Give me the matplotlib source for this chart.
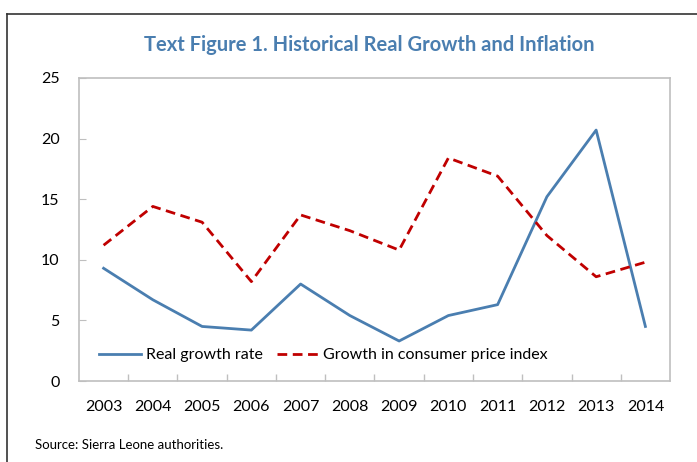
import numpy as np
import matplotlib.pyplot as plt
from matplotlib.lines import Line2D

# Données
years = ['2003', '2004', '2005', '2006', '2007', '2008', '2009',
         '2010', '2011', '2012', '2013', '2014']
real_growth = [9.3, 6.7, 4.5, 4.2, 8.0, 5.4, 3.3, 5.4, 6.3, 15.2, 20.7, 4.5]
cpi_growth = [11.2, 14.4, 13.1, 8.2, 13.7, 12.4, 10.8, 18.4, 16.9, 12.0, 8.6, 9.8]
y_ticks = [0, 5, 10, 15, 20, 25]

plt.rcParams['font.family'] = ['Lato', 'DejaVu Sans']

fig = plt.figure(figsize=(6.97, 4.62), dpi=100)
ax = fig.add_axes([0.1133, 0.1753, 0.848, 0.656])

x = np.arange(len(years))
ax.plot(x, real_growth, color='#4a7eb0', lw=2.0, label='Real growth rate')
ax.plot(x, cpi_growth, color='#c00000', lw=2.0, ls=(0, (3.5, 2)),
        label='Growth in consumer price index')

ax.set_xlim(-0.5, len(years) - 0.5)
ax.set_ylim(0, 25)
ax.set_yticks(y_ticks)
ax.set_xticks(x)
ax.set_xticklabels(years)
ax.set_xticks(x[:-1] + 0.5, minor=True)

ax.tick_params(axis='x', which='major', length=0, pad=14, labelsize=11.5)
ax.tick_params(axis='x', which='minor', direction='in', length=5,
               color='#bfbfbf', width=1)
ax.tick_params(axis='y', direction='in', length=5, color='#bfbfbf',
               pad=14, labelsize=11.5)

for s in ax.spines.values():
    s.set_color('#bfbfbf')
    s.set_linewidth(1.2)

leg = ax.legend(loc='lower left', ncol=2, frameon=False, fontsize=11.5,
                handlelength=2.6, handletextpad=0.3, columnspacing=0.9,
                bbox_to_anchor=(0.01, 0.015))

fig.text(0.53, 0.903, 'Text Figure 1. Historical Real Growth and Inflation',
         ha='center', va='center', fontsize=14.5, fontweight='bold',
         color='#4a7eb0')
fig.text(0.05, 0.037, 'Source: Sierra Leone authorities.', ha='left',
         va='center', fontsize=9.5)

# cadre extérieur (haut et gauche)
fig.add_artist(Line2D([7 / 697, 1.0], [1 - 14 / 462, 1 - 14 / 462],
                      color='#333333', lw=1.2))
fig.add_artist(Line2D([7 / 697, 7 / 697], [0, 1 - 14 / 462],
                      color='#333333', lw=1.2))

fig.savefig('out.png', dpi=100)
